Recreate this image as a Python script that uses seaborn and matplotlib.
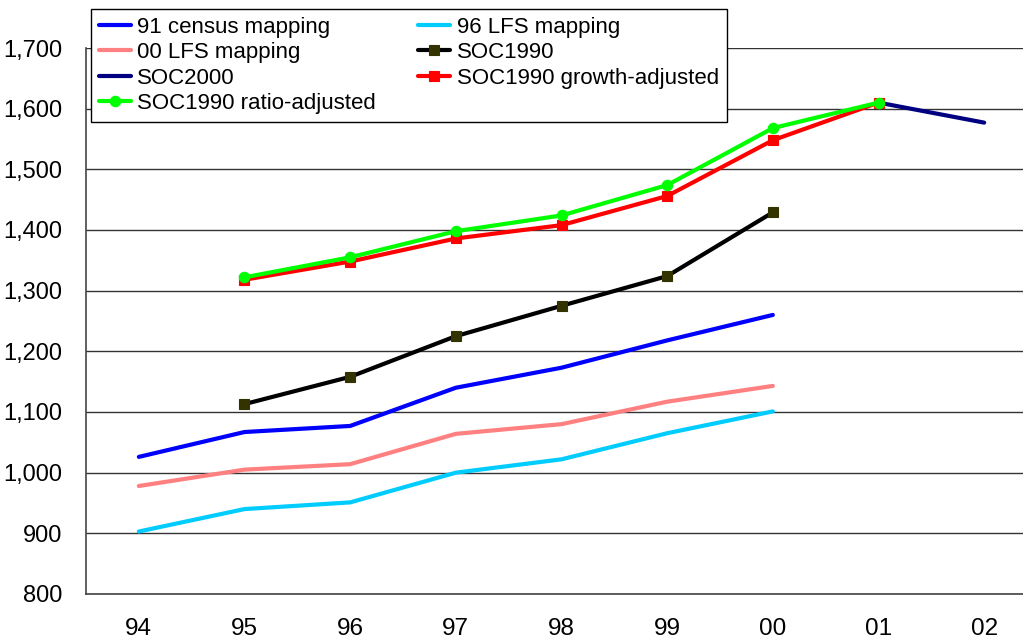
import numpy as np
import pandas as pd
import matplotlib
matplotlib.use("Agg")
import matplotlib.pyplot as plt
import seaborn as sns

# Year labels (two-digit) and employment series, thousands
years = ["94", "95", "96", "97", "98", "99", "00", "01", "02"]
nan = np.nan
census91_mapping = [1026, 1067, 1077, 1140, 1173, 1218, 1260, nan, nan]
lfs96_mapping = [903, 940, 951, 1000, 1022, 1065, 1101, nan, nan]
lfs00_mapping = [978, 1005, 1014, 1064, 1080, 1117, 1143, nan, nan]
soc1990 = [nan, 1113, 1158, 1225, 1275, 1324, 1429, nan, nan]
soc2000 = [nan, nan, nan, nan, nan, nan, nan, 1610, 1577]
soc1990_growth = [nan, 1318, 1348, 1386, 1408, 1456, 1548, 1610, nan]
soc1990_ratio = [nan, 1322, 1355, 1398, 1424, 1474, 1568, 1610, nan]

labels = ["91 census mapping", "96 LFS mapping", "00 LFS mapping", "SOC1990",
          "SOC2000", "SOC1990 growth-adjusted", "SOC1990 ratio-adjusted"]
series = [census91_mapping, lfs96_mapping, lfs00_mapping, soc1990,
          soc2000, soc1990_growth, soc1990_ratio]

styles = {
    "91 census mapping": dict(color="#0000FF", marker=None),
    "96 LFS mapping": dict(color="#00CCFF", marker=None),
    "00 LFS mapping": dict(color="#FF8080", marker=None),
    "SOC1990": dict(color="#000000", marker="s", markerfacecolor="#333300",
                    markeredgecolor="#333300", markersize=7),
    "SOC2000": dict(color="#000080", marker=None),
    "SOC1990 growth-adjusted": dict(color="#FF0000", marker="s",
                                    markerfacecolor="#FF0000",
                                    markeredgecolor="#FF0000", markersize=7),
    "SOC1990 ratio-adjusted": dict(color="#00FF00", marker="o",
                                   markerfacecolor="#00FF00",
                                   markeredgecolor="#00FF00", markersize=7.5),
}

sns.set_style("white")
plt.rcParams["font.family"] = ["Liberation Sans", "DejaVu Sans"]
plt.rcParams["text.color"] = "black"
plt.rcParams["xtick.labelcolor"] = "black"
plt.rcParams["ytick.labelcolor"] = "black"

fig = plt.figure(figsize=(10.23, 6.41), dpi=100)
ax = fig.add_axes([86 / 1023, 47 / 641, (1037 - 86) / 1023, (594 - 48) / 641])

pos = np.arange(len(years))
handles = {}
for i, (name, vals) in enumerate(zip(labels, series)):
    df = pd.DataFrame({"pos": pos, "value": vals}).dropna()
    st = styles[name]
    sns.lineplot(data=df, x="pos", y="value", ax=ax, color=st["color"],
                 linewidth=3.0, marker=st["marker"],
                 markerfacecolor=st.get("markerfacecolor"),
                 markeredgecolor=st.get("markeredgecolor"),
                 markersize=st.get("markersize", 0),
                 markeredgewidth=0.8, zorder=3 + i, label=name, legend=False)
    handles[name] = ax.lines[-1]

ax.set_xlim(-0.5, len(years) - 0.5)
ax.set_ylim(800, 1700)
ax.set_yticks(np.arange(800, 1701, 100))
ax.set_yticklabels([f"{v:,}" for v in range(800, 1701, 100)])
ax.set_xticks(pos)
ax.set_xticklabels(years)
ax.set_xticks(np.arange(-0.5, len(years), 1.0), minor=True)
ax.tick_params(axis="x", which="major", length=0, pad=17, labelsize=17.5,
               labelcolor="black")
ax.tick_params(axis="x", which="minor", length=8, width=1, color="#555555",
               direction="out")
ax.tick_params(axis="y", length=8, width=1, color="#555555", direction="out",
               pad=9, labelsize=17, labelcolor="black")
ax.set_xlabel("")
ax.set_ylabel("")

ax.grid(axis="y", color="#333333", linewidth=1.0)
ax.grid(axis="x", visible=False)
ax.set_axisbelow(True)
for side in ("top", "right"):
    ax.spines[side].set_visible(False)
for side in ("left", "bottom"):
    ax.spines[side].set_color("#444444")
    ax.spines[side].set_linewidth(1.2)

# Legend laid out row-wise: two columns filled top to bottom
order = ["91 census mapping", "00 LFS mapping", "SOC2000", "SOC1990 ratio-adjusted",
         "96 LFS mapping", "SOC1990", "SOC1990 growth-adjusted"]
leg = fig.legend([handles[n] for n in order], order, ncol=2, loc="upper left",
                 bbox_to_anchor=(91 / 1023, 1 - 9 / 641), borderaxespad=0,
                 frameon=True, fancybox=False, edgecolor="black", framealpha=1,
                 fontsize=16, handlelength=1.45, handletextpad=0.28,
                 columnspacing=1.9, labelspacing=0.2, borderpad=0.35)
leg.get_frame().set_linewidth(1.0)
for t in leg.get_texts():
    t.set_color("black")

fig.savefig("out.png", dpi=100)
